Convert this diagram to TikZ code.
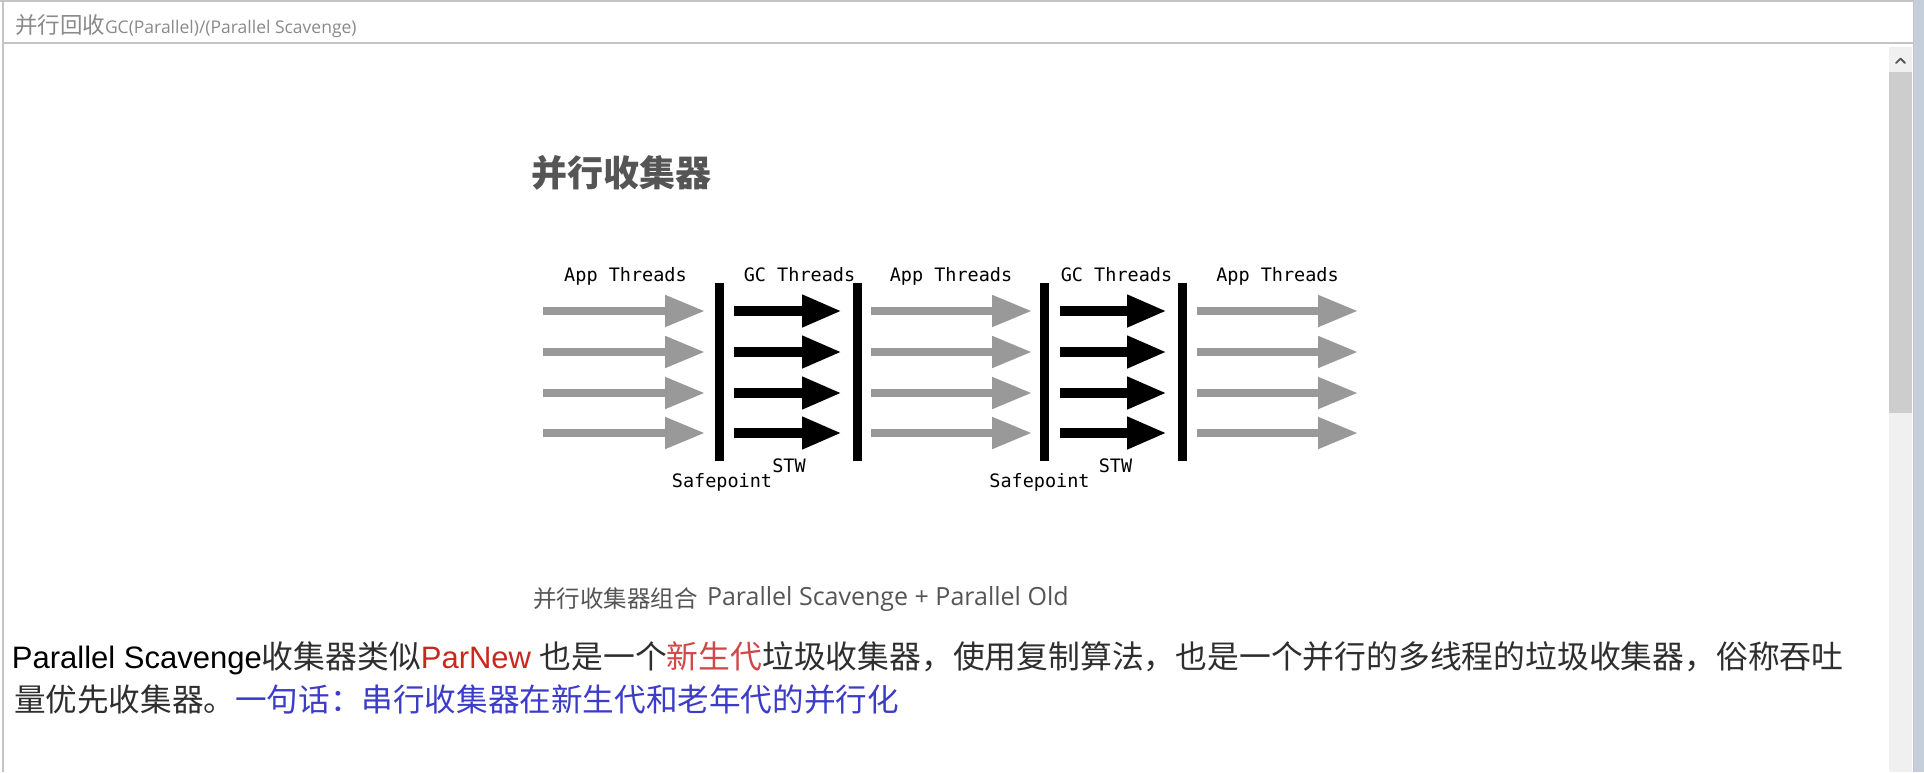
\documentclass[tikz,border=0pt]{standalone}
\usepackage{fontspec}
\usetikzlibrary{arrows.meta}
\setmainfont{Liberation Sans}
\newfontfamily\cjk{Noto Sans CJK SC}
\newfontfamily\ui{Open Sans}
\newfontfamily\mono{DejaVu Sans Mono}
\definecolor{bandblue}{HTML}{C5CEDB}
\definecolor{framegray}{HTML}{C4C4C4}
\definecolor{trackgray}{HTML}{F0F0F0}
\definecolor{thumbgray}{HTML}{CDCDCD}
\definecolor{titlegray}{HTML}{8A8A8A}
\definecolor{headgray}{HTML}{555555}
\definecolor{arrowgray}{HTML}{999999}
\definecolor{textdark}{HTML}{2E2E2E}
\definecolor{parred}{HTML}{C8281E}
\definecolor{genred}{HTML}{D04848}
\definecolor{sentblue}{HTML}{3C3CC8}
\tikzset{
  txt/.style={inner sep=0pt, outer sep=0pt},
  lbl/.style={txt, font=\mono\fontsize{18.5}{18.5}\selectfont, anchor=base},
  grayarrow/.style={draw=arrowgray, line width=8pt, -{Triangle[length=40pt,width=30pt]}},
  blackarrow/.style={draw=black, line width=10pt, -{Triangle[length=40pt,width=30pt]}},
  barline/.style={draw=black, line width=9pt},
}
\begin{document}
\begin{tikzpicture}[x=1pt,y=-1pt]
\useasboundingbox (0,0) rectangle (1924,772);
\fill[white] (0,0) rectangle (1924,772);
% window frame
\fill[bandblue] (1914,0) rectangle (1924,772);
\draw[framegray, line width=1.5pt] (0,1) -- (1914,1);
\draw[framegray, line width=1.5pt] (3,0) -- (3,772);
\draw[framegray, line width=1.5pt] (3,43) -- (1913,43);
\draw[framegray, line width=1pt] (1913,0) -- (1913,772);
% scrollbar
\fill[trackgray] (1889,47) rectangle (1912,772);
\fill[thumbgray] (1889,72) rectangle (1912,413);
\draw[headgray, line width=1.8pt, line cap=round, line join=round] (1896,63) -- (1900.5,58.5) -- (1905,63);
% title
\node[txt, anchor=west] (title) at (15,26) {\color{titlegray}{\cjk\fontsize{22.5}{22.5}\selectfont 并行回收}{\ui\fontsize{17.5}{17.5}\selectfont GC(Parallel)/(Parallel Scavenge)}};
% heading
\node[txt, anchor=west, text=headgray] (head) at (531,173) {\cjk\bfseries\fontsize{36}{36}\selectfont 并行收集器};
% labels
\node[lbl] (app1) at (625.5,281) {App Threads};
\node[lbl] (gc1) at (799.5,281) {GC Threads};
\node[lbl] (app2) at (951,281) {App Threads};
\node[lbl] (gc2) at (1116.5,281) {GC Threads};
\node[lbl] (app3) at (1277.5,281) {App Threads};
\node[lbl] (stw1) at (789,472) {STW};
\node[lbl] (stw2) at (1115.5,472) {STW};
\node[lbl] (sp1) at (722,487) {Safepoint};
\node[lbl] (sp2) at (1039.5,487) {Safepoint};
% bars
\foreach \x [count=\i] in {719,857,1044,1182} {
  \coordinate (bt\i) at (\x,283);
  \coordinate (bb\i) at (\x,461);
  \draw[barline] (bt\i) -- (bb\i);
}
% arrows
\foreach \y [count=\i] in {311,352,393,433} {
  \coordinate (a1s\i) at (543,\y);  \coordinate (a1e\i) at (705,\y);
  \coordinate (g1s\i) at (734,\y);  \coordinate (g1e\i) at (842,\y);
  \coordinate (a2s\i) at (871,\y);  \coordinate (a2e\i) at (1032,\y);
  \coordinate (g2s\i) at (1060,\y); \coordinate (g2e\i) at (1167,\y);
  \coordinate (a3s\i) at (1197,\y); \coordinate (a3e\i) at (1358,\y);
  \draw[grayarrow] (a1s\i) -- (a1e\i);
  \draw[blackarrow] (g1s\i) -- (g1e\i);
  \draw[grayarrow] (a2s\i) -- (a2e\i);
  \draw[blackarrow] (g2s\i) -- (g2e\i);
  \draw[grayarrow] (a3s\i) -- (a3e\i);
}
% caption
\node[txt, anchor=west, text=headgray] (capcn) at (533,599) {\cjk\fontsize{23.5}{23.5}\selectfont 并行收集器组合};
\node[txt, anchor=west, text=headgray] (capen) at (707,599) {\ui\fontsize{25}{25}\selectfont Parallel Scavenge + Parallel Old};
% paragraph
\node[txt, anchor=west] (line1) at (12,658) {\fontsize{31}{31}\selectfont
  {\color{black}Parallel Scavenge}{\cjk\fontsize{31.8}{31.8}\selectfont\color{textdark}收集器类似}{\color{parred}ParNew }{\cjk\fontsize{31.8}{31.8}\selectfont\color{textdark}也是一个}{\cjk\fontsize{31.8}{31.8}\selectfont\color{genred}新生代}{\cjk\fontsize{31.8}{31.8}\selectfont\color{textdark}垃圾收集器，使用复制算法，也是一个并行的多线程的垃圾收集器，俗称吞吐}};
\node[txt, anchor=west] (line2) at (14,700) {\cjk\fontsize{31.6}{31.6}\selectfont{\color{textdark}量优先收集器。}{\color{sentblue}一句话：串行收集器在新生代和老年代的并行化}};
\end{tikzpicture}
\end{document}
